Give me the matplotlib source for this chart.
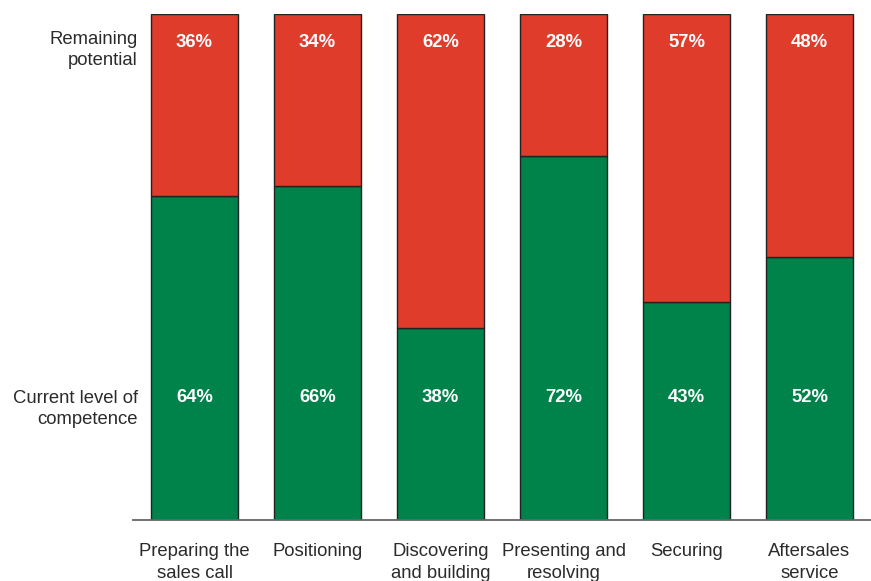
#!/usr/bin/env python

import matplotlib
matplotlib.use('Agg')
import matplotlib.pyplot as plt


STAGES = ['Preparing the\nsales call', 'Positioning', 'Discovering\nand building',
          'Presenting and\nresolving', 'Securing', 'Aftersales\nservice']
CURRENT = [64, 66, 38, 72, 43, 52]
REMAINING = [36, 34, 62, 28, 57, 48]

GREEN = '#00834a'
RED = '#e03c2c'
TEXT = '#2b2b2b'


def main():
    plt.rcParams['font.family'] = ['Liberation Sans', 'DejaVu Sans']

    fig = plt.figure(figsize=(8.71, 5.81), dpi=100)
    ax = fig.add_axes([133 / 871, 61 / 581, 1 - 133 / 871, 506 / 581])

    x = range(len(STAGES))
    ax.bar(x, CURRENT, width=0.707, color=GREEN, edgecolor='#222222', linewidth=1.0)
    ax.bar(x, REMAINING, width=0.707, bottom=CURRENT, color=RED,
           edgecolor='#222222', linewidth=1.0)

    for i in x:
        ax.text(i, 94.4, '%d%%' % REMAINING[i], ha='center', va='center',
                color='white', fontsize=13.3, fontweight='bold')
        ax.text(i, 24.3, '%d%%' % CURRENT[i], ha='center', va='center',
                color='white', fontsize=13.3, fontweight='bold')

    fig.text(138 / 871, (581 - 50) / 581, 'Remaining\npotential', ha='right',
             va='center', fontsize=13.3, color=TEXT, linespacing=1.38)
    fig.text(138 / 871, (581 - 409) / 581, 'Current level of\ncompetence', ha='right',
             va='center', fontsize=13.3, color=TEXT, linespacing=1.38)

    ax.set_xlim(-0.5, 5.5)
    ax.set_ylim(0, 100)
    ax.set_xticks(list(x))
    ax.set_xticklabels(STAGES, fontsize=13.3, color=TEXT, linespacing=1.38)
    ax.tick_params(axis='x', length=0, pad=16.5)
    ax.set_yticks([])
    for s in ('top', 'right', 'left'):
        ax.spines[s].set_visible(False)
    ax.spines['bottom'].set_color('#666666')
    ax.spines['bottom'].set_linewidth(1.3)

    plt.savefig('out.png', dpi=100)
    plt.close('all')


if __name__ == '__main__':
    main()
